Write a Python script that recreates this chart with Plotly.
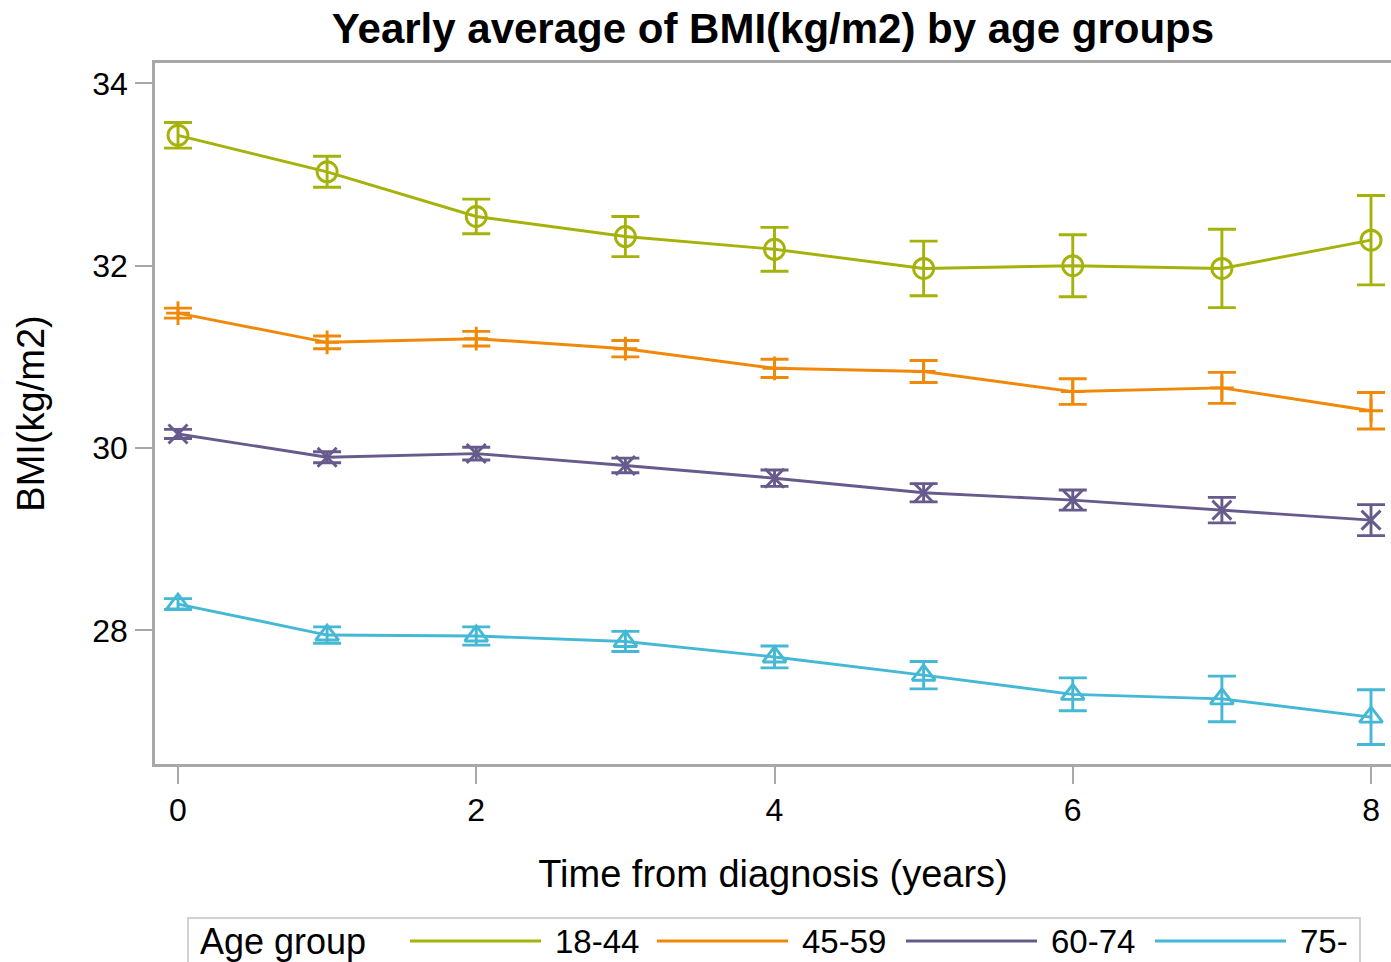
import plotly.graph_objects as go

# ---------------- data ----------------
years = [0, 1, 2, 3, 4, 5, 6, 7, 8]
groups = ["18-44", "45-59", "60-74", "75-"]
bmi_18_44 = [33.43, 33.03, 32.54, 32.32, 32.18, 31.97, 32.00, 31.97, 32.28]
err_18_44 = [0.14, 0.17, 0.19, 0.22, 0.24, 0.30, 0.34, 0.43, 0.49]
bmi_45_59 = [31.48, 31.16, 31.20, 31.09, 30.875, 30.84, 30.62, 30.66, 30.41]
err_45_59 = [0.055, 0.07, 0.08, 0.09, 0.10, 0.12, 0.14, 0.17, 0.20]
bmi_60_74 = [30.155, 29.90, 29.94, 29.81, 29.67, 29.51, 29.43, 29.32, 29.21]
err_60_74 = [0.05, 0.06, 0.07, 0.08, 0.09, 0.10, 0.11, 0.14, 0.17]
bmi_75 = [28.29, 27.95, 27.94, 27.88, 27.71, 27.51, 27.30, 27.25, 27.05]
err_75 = [0.06, 0.09, 0.10, 0.11, 0.12, 0.15, 0.18, 0.25, 0.30]
x_ticks = [0, 2, 4, 6, 8]
y_ticks = [28, 30, 32, 34]
title_text = "Yearly average of BMI(kg/m2) by age groups"
x_title = "Time from diagnosis (years)"
y_title = "BMI(kg/m2)"
legend_title = "Age group"

# ---------------- style ----------------
colors = ["#A5B20A", "#F0890A", "#675A8C", "#44B8D4"]
symbols = ["circle-open", "cross-thin-open", "x-thin-open", "triangle-up-open"]
msizes = [20, 17, 19, 20]
FONT = "Liberation Sans, Arial, sans-serif"
AXIS_COL = "#A8A8A8"
LW = 2.9

W, H = 1391, 962
L, R, T, B = 155, 0, 63, 198
PW, PH = W - L - R, H - T - B


def px(xp):
    return (xp - L) / PW


def py(yp):
    return (H - B - yp) / PH


series = [bmi_18_44, bmi_45_59, bmi_60_74, bmi_75]
errors = [err_18_44, err_45_59, err_60_74, err_75]

fig = go.Figure()
for name, vals, errs, c, s, ms in zip(groups, series, errors, colors, symbols, msizes):
    fig.add_trace(go.Scatter(
        x=years, y=vals, name=name, mode="lines+markers",
        line=dict(color=c, width=LW),
        marker=dict(symbol=s, size=ms, color=c, line=dict(color=c, width=LW)),
        error_y=dict(type="data", array=errs, visible=True, color=c,
                     thickness=LW, width=14),
        showlegend=False,
    ))

fig.update_layout(
    width=W, height=H,
    margin=dict(l=L, r=R, t=T, b=B, pad=0),
    paper_bgcolor="white", plot_bgcolor="white",
    font=dict(family=FONT, color="black"),
    title=dict(text="<b>" + title_text + "</b>", x=(L + PW / 2) / W,
               xanchor="center", xref="container",
               y=1 - 28 / H, yanchor="middle",
               font=dict(size=42, family=FONT, color="black")),
    showlegend=False,
)

fig.update_xaxes(
    range=[-0.1542, 8.134], tickvals=x_ticks, ticktext=[str(v) for v in x_ticks],
    showline=True, linecolor=AXIS_COL, linewidth=2.5, mirror=True,
    ticks="outside", ticklen=17, tickwidth=2, tickcolor=AXIS_COL,
    tickfont=dict(size=32, family=FONT, color="black"),
    ticklabelstandoff=-1,
    showgrid=False, zeroline=False,
    title=dict(text=x_title, font=dict(size=38, family=FONT, color="black"), standoff=34),
)
fig.update_yaxes(
    range=[26.536, 34.223], tickvals=y_ticks, ticktext=[str(v) for v in y_ticks],
    showline=True, linecolor=AXIS_COL, linewidth=2.5, mirror=False,
    ticks="outside", ticklen=17, tickwidth=2, tickcolor=AXIS_COL,
    tickfont=dict(size=32, family=FONT, color="black"),
    ticklabelstandoff=1,
    showgrid=False, zeroline=False,
    title=dict(text=y_title, font=dict(size=38, family=FONT, color="black"), standoff=36),
)

# ---------------- manual legend ----------------
shapes = []
annotations = []
leg_y = 941
shapes.append(dict(type="rect", xref="paper", yref="paper",
                   x0=px(188), x1=px(1360), y0=py(1000), y1=py(918),
                   line=dict(color="#D2D2D2", width=2), fillcolor="rgba(0,0,0,0)",
                   layer="above"))
annotations.append(dict(text=legend_title, xref="paper", yref="paper",
                        x=px(198), y=py(leg_y), xanchor="left", yanchor="middle",
                        showarrow=False, font=dict(size=36, family=FONT, color="black")))
line_starts = [410, 657, 906, 1155]
line_len = 131
for g, c, x0 in zip(groups, colors, line_starts):
    shapes.append(dict(type="line", xref="paper", yref="paper",
                       x0=px(x0), x1=px(x0 + line_len), y0=py(leg_y), y1=py(leg_y),
                       line=dict(color=c, width=LW)))
    annotations.append(dict(text=g, xref="paper", yref="paper",
                            x=px(x0 + line_len + 12), y=py(leg_y),
                            xanchor="left", yanchor="middle", showarrow=False,
                            font=dict(size=33, family=FONT, color="black")))

fig.update_layout(shapes=shapes, annotations=annotations)
fig.write_html("out.html")
